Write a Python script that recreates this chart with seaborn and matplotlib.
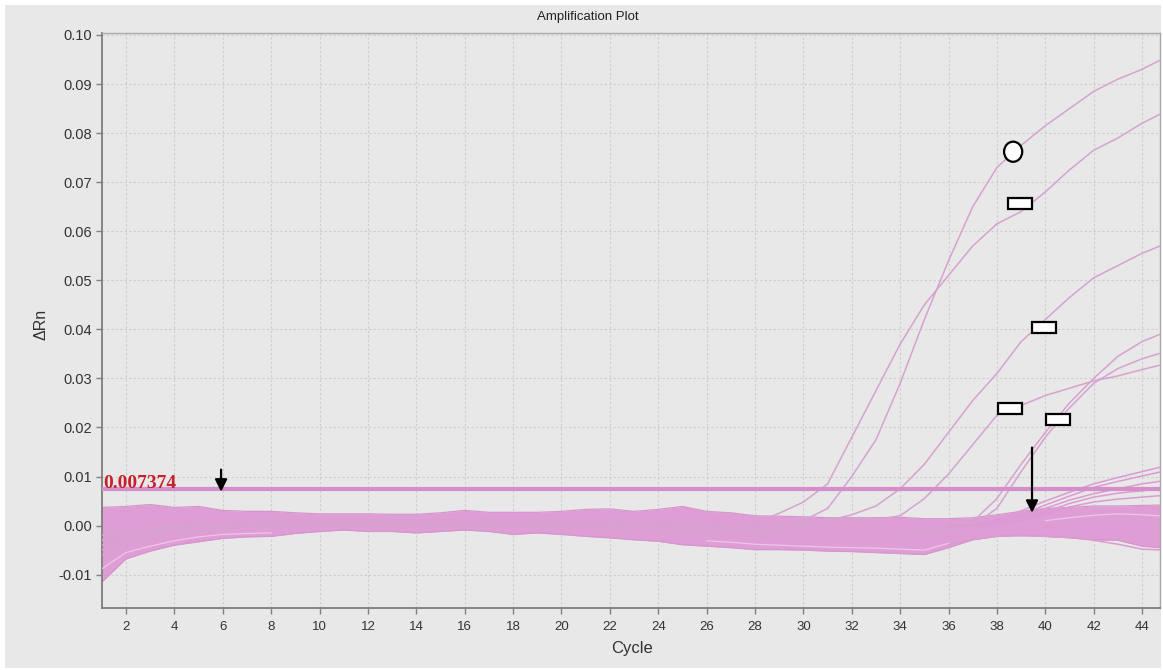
import numpy as np
import pandas as pd
import matplotlib
matplotlib.use("Agg")
import matplotlib.pyplot as plt
import seaborn as sns
from matplotlib.patches import Rectangle, Ellipse
from matplotlib.ticker import FormatStrFormatter

# ---------------- data ----------------
cycles = list(range(1, 46))
threshold = 0.007374

# envelope of the dense baseline band (cycles 1..45)
band_upper = [0.0037, 0.0039, 0.0043, 0.0037, 0.0039, 0.0031, 0.0029, 0.0029, 0.0026, 0.0024,
              0.0024, 0.0024, 0.0023, 0.0023, 0.0026, 0.0031, 0.0027, 0.0027, 0.0027, 0.0029,
              0.0033, 0.0034, 0.0029, 0.0033, 0.0039, 0.0029, 0.0026, 0.0020, 0.0019, 0.0018,
              0.0016, 0.0016, 0.0016, 0.0017, 0.0014, 0.0014, 0.0016, 0.0022, 0.0029, 0.0035,
              0.0037, 0.0040, 0.0040, 0.0041, 0.0042]
band_lower = [-0.0115, -0.0068, -0.0052, -0.0040, -0.0033, -0.0026, -0.0023, -0.0022, -0.0016, -0.0012,
              -0.0009, -0.0012, -0.0012, -0.0015, -0.0012, -0.0009, -0.0012, -0.0018, -0.0015, -0.0018,
              -0.0022, -0.0025, -0.0029, -0.0032, -0.0039, -0.0042, -0.0045, -0.0049, -0.0049, -0.0050,
              -0.0052, -0.0053, -0.0055, -0.0057, -0.0059, -0.0045, -0.0029, -0.0022, -0.0019, -0.0022,
              -0.0025, -0.0029, -0.0030, -0.0042, -0.0046]

# light streaks inside the band (gaps between individual traces)
streak_1 = [-0.0088, -0.0055, -0.0042, -0.0031, -0.0023, -0.0018, -0.0016, -0.0015] + [np.nan] * 37
streak_2 = [np.nan] * 25 + [-0.0031, -0.0034, -0.0038, -0.0040, -0.0042, -0.0044, -0.0045, -0.0046,
                            -0.0048, -0.0050, -0.0036] + [np.nan] * 9
streak_3 = [np.nan] * 39 + [0.0010, 0.0016, 0.0021, 0.0024, 0.0022, 0.0019]

# amplified wells
amp_a = [-0.004, -0.002, -0.001, 0.000, 0.000, 0.000, 0.001, 0.001, 0.001, 0.001,
         0.001, 0.001, 0.001, 0.001, 0.001, 0.001, 0.001, 0.001, 0.001, 0.001,
         0.001, 0.001, 0.001, 0.001, 0.000, 0.000, -0.001, -0.001, -0.001, 0.001,
         0.0035, 0.010, 0.0175, 0.029, 0.042, 0.054, 0.065, 0.073, 0.0775, 0.0815,
         0.085, 0.0885, 0.091, 0.093, 0.0955]
amp_b = [-0.003, -0.002, -0.001, 0.000, 0.000, 0.000, 0.000, 0.001, 0.001, 0.001,
         0.001, 0.001, 0.001, 0.001, 0.001, 0.001, 0.001, 0.001, 0.001, 0.001,
         0.001, 0.001, 0.000, 0.000, 0.000, 0.000, 0.000, 0.0005, 0.0025, 0.0048,
         0.0085, 0.018, 0.0275, 0.037, 0.045, 0.0510, 0.057, 0.0615, 0.064, 0.068,
         0.0725, 0.0765, 0.079, 0.082, 0.0845]
amp_c = [-0.005, -0.003, -0.002, -0.001, -0.001, 0.000, 0.000, 0.000, 0.000, 0.000,
         0.000, 0.000, 0.000, 0.000, 0.000, 0.000, 0.000, 0.000, 0.000, 0.000,
         0.000, 0.000, 0.000, 0.000, 0.000, 0.000, 0.000, 0.000, 0.000, 0.0005,
         0.001, 0.0022, 0.004, 0.0075, 0.0125, 0.019, 0.0255, 0.031, 0.0375, 0.042,
         0.0465, 0.0505, 0.053, 0.0555, 0.0575]
amp_d = [-0.006, -0.004, -0.003, -0.002, -0.001, -0.001, 0.000, 0.000, 0.000, 0.000,
         0.000, 0.000, 0.000, 0.000, 0.000, 0.000, 0.000, 0.000, 0.000, 0.000,
         0.000, 0.000, 0.000, 0.000, 0.000, 0.000, 0.000, 0.000, 0.000, 0.000,
         0.0003, 0.0006, 0.0012, 0.002, 0.0055, 0.0105, 0.0165, 0.0225, 0.0245, 0.0265,
         0.028, 0.0295, 0.0305, 0.0318, 0.033]
amp_e = [-0.002, -0.001, 0.000, 0.000, 0.000, 0.000, 0.000, 0.000, 0.000, 0.000,
         0.000, 0.000, 0.000, 0.000, 0.000, 0.000, 0.000, 0.000, 0.000, 0.000,
         0.000, 0.000, -0.001, -0.001, -0.001, -0.001, -0.001, -0.001, -0.002, -0.002,
         -0.002, -0.002, -0.002, -0.002, -0.001, -0.0005, 0.0008, 0.0055, 0.0125, 0.019,
         0.025, 0.030, 0.0345, 0.0375, 0.0395]
amp_f = [-0.003, -0.002, -0.001, -0.001, 0.000, 0.000, 0.000, 0.000, 0.000, 0.000,
         0.000, 0.000, 0.000, 0.000, 0.000, 0.000, 0.000, 0.000, 0.000, 0.000,
         0.000, -0.001, -0.001, -0.001, -0.001, -0.002, -0.002, -0.002, -0.002, -0.002,
         -0.002, -0.002, -0.002, -0.002, -0.0015, -0.001, 0.000, 0.0035, 0.011, 0.018,
         0.024, 0.029, 0.032, 0.034, 0.0355]

# late low risers (cycles 36..45; earlier cycles hidden in the band)
late_1 = [np.nan] * 35 + [0.000, 0.000, 0.0012, 0.003, 0.005, 0.0068, 0.0085, 0.0098, 0.011, 0.0122]
late_2 = [np.nan] * 35 + [0.000, 0.000, 0.0008, 0.0022, 0.0042, 0.006, 0.0078, 0.009, 0.0101, 0.0112]
late_3 = [np.nan] * 35 + [0.000, 0.000, 0.0005, 0.0018, 0.0035, 0.0052, 0.0065, 0.0075, 0.0085, 0.0092]
late_4 = [np.nan] * 35 + [0.000, 0.000, 0.000, 0.0012, 0.0028, 0.0045, 0.0058, 0.0066, 0.0071, 0.0076]
late_5 = [np.nan] * 35 + [0.000, 0.000, 0.000, 0.001, 0.0024, 0.0038, 0.0048, 0.0054, 0.0058, 0.0062]
late_6 = [np.nan] * 35 + [-0.004, -0.0028, -0.0022, -0.0021, -0.0022, -0.0024, -0.003, -0.0038, -0.0048, -0.005]

# annotation overlays
arrow_x = [5.93, 39.45]
arrow_from = [0.0114, 0.0159]
arrow_to = [0.0069, 0.0026]
circle_center = (38.67, 0.0762)
rect_centers_x = [38.96, 39.94, 38.54, 40.53]
rect_centers_y = [0.0656, 0.0403, 0.0239, 0.0217]

x_ticks = list(range(2, 45, 2))
y_ticks = [-0.01, 0.00, 0.01, 0.02, 0.03, 0.04, 0.05, 0.06, 0.07, 0.08, 0.09, 0.10]

# ---------------- style ----------------
sns.set_style("ticks")
plt.rcParams["font.family"] = ["Liberation Sans", "DejaVu Sans"]
plt.rcParams["axes.unicode_minus"] = False

W, H = 1163, 670
BG = "#e8e8e8"
BAND = "#df9dd6"
LINE = "#d6a2cf"
fig = plt.figure(figsize=(W / 100, H / 100), dpi=100, facecolor="white")
fig.patches.append(Rectangle((5 / W, 2 / H), (W - 7) / W, (H - 7) / H,
                             transform=fig.transFigure, facecolor=BG, edgecolor="none", zorder=-5))

ax = fig.add_axes([101.8 / W, 1 - 608 / H, (1160 - 101.8) / W, (608 - 33) / H])
ax.set_facecolor(BG)

# band
ax.fill_between(cycles, band_lower, band_upper, color=BAND, lw=0, zorder=2)
edge_df = pd.DataFrame({
    "cycle": cycles * 2,
    "dRn": band_upper + band_lower,
    "well": ["up"] * 45 + ["low"] * 45,
})
sns.lineplot(data=edge_df, x="cycle", y="dRn", units="well", estimator=None,
             color="#d596cc", lw=0.9, ax=ax, legend=False, zorder=2.5)

streak_df = pd.DataFrame({
    "cycle": cycles * 3,
    "dRn": streak_1 + streak_2 + streak_3,
    "well": ["s1"] * 45 + ["s2"] * 45 + ["s3"] * 45,
})
sns.lineplot(data=streak_df, x="cycle", y="dRn", units="well", estimator=None,
             color="#ecc6e7", lw=0.9, ax=ax, legend=False, zorder=2.6)

late = [late_1, late_2, late_3, late_4, late_5, late_6]
late_df = pd.DataFrame({
    "cycle": cycles * len(late),
    "dRn": sum(late, []),
    "well": sum([[f"l{i}"] * 45 for i in range(len(late))], []),
})
sns.lineplot(data=late_df, x="cycle", y="dRn", units="well", estimator=None,
             color="#dc9ad3", lw=1.1, ax=ax, legend=False, zorder=3)

amps = [amp_a, amp_b, amp_c, amp_d, amp_e, amp_f]
amp_df = pd.DataFrame({
    "cycle": cycles * len(amps),
    "dRn": sum(amps, []),
    "well": sum([[f"a{i}"] * 45 for i in range(len(amps))], []),
})
sns.lineplot(data=amp_df, x="cycle", y="dRn", units="well", estimator=None,
             color=LINE, lw=1.1, ax=ax, legend=False, zorder=3.2)

ax.axhline(threshold, color="#d48fcb", lw=3.0, zorder=4)
ax.text(1.06, threshold + 0.0003, "0.007374", color="#c8202a",
        fontfamily=["Liberation Serif", "DejaVu Serif"], fontweight="bold",
        fontsize=14, ha="left", va="baseline", zorder=5)

# annotations
for x, y0, y1 in zip(arrow_x, arrow_from, arrow_to):
    ax.annotate("", xy=(x, y1), xytext=(x, y0),
                arrowprops=dict(arrowstyle="-|>", color="black", lw=1.6,
                                mutation_scale=18, shrinkA=0, shrinkB=0),
                zorder=8)
ax.add_patch(Ellipse(circle_center, 0.75, 0.0041, facecolor="white",
                     edgecolor="black", lw=1.6, zorder=8))
for cx, cy in zip(rect_centers_x, rect_centers_y):
    ax.add_patch(Rectangle((cx - 0.5, cy - 0.0011), 1.0, 0.0022, facecolor="white",
                           edgecolor="black", lw=1.6, zorder=8))

# axes
ax.set_xlim(1, 44.74)
ax.set_ylim(-0.0168, 0.1004)
ax.set_xticks(x_ticks)
ax.set_yticks(y_ticks)
ax.yaxis.set_major_formatter(FormatStrFormatter("%.2f"))
ax.grid(True, color="#cdcdcd", lw=0.8, linestyle=(0, (2, 2)))
ax.set_axisbelow(True)
ax.tick_params(axis="both", direction="out", length=4, width=1, color="#808080",
               labelcolor="#333333")
ax.tick_params(axis="y", labelsize=10.5, pad=3)
ax.tick_params(axis="x", labelsize=9.5, pad=5)
for side in ["left", "bottom"]:
    ax.spines[side].set_color("#7c7c7c")
    ax.spines[side].set_linewidth(1.3)
for side in ["top", "right"]:
    ax.spines[side].set_color("#a8a8a8")
    ax.spines[side].set_linewidth(1.0)
ax.set_xlabel("")
ax.set_ylabel("")

fig.text(588 / W, 1 - 17 / H, "Amplification Plot", ha="center", va="center",
         fontsize=9.5, color="#222222")
fig.text(632 / W, 1 - 648 / H, "Cycle", ha="center", va="center",
         fontsize=12, color="#333333")
fig.text(41 / W, 1 - 324 / H, "ΔRn", ha="center", va="center", rotation=90,
         fontsize=11.5, color="#333333")

fig.savefig("out.png", dpi=100, facecolor="white")
